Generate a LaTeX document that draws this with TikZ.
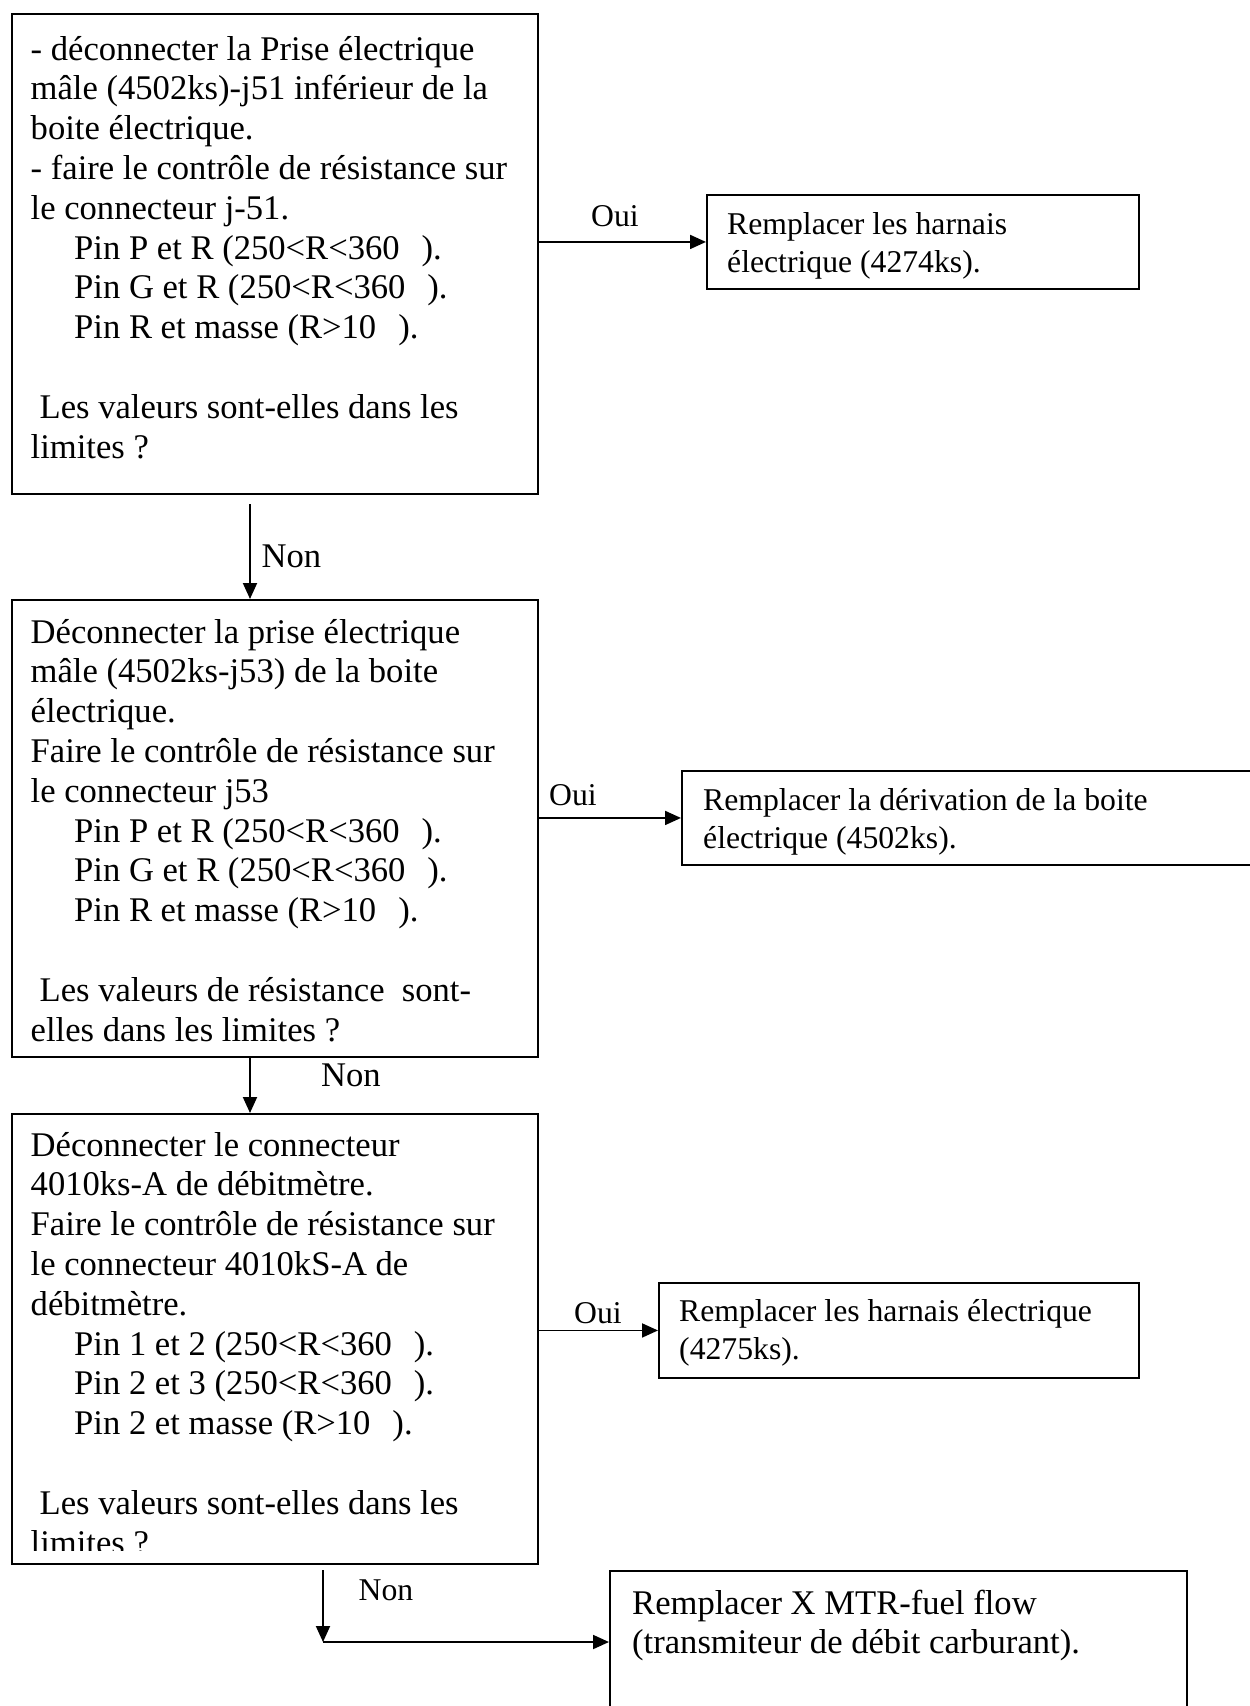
\documentclass[tikz,border=0pt]{standalone}
\usepackage{fontspec}
\setmainfont{Liberation Serif}
\usetikzlibrary{arrows.meta}

% Two type sizes: 12pt-like body and 11pt-like captions (1pt = 1px of the sheet)
\newcommand{\bodyfont}{\fontsize{34.6}{39.8}\selectfont}
\newcommand{\smallfont}{\fontsize{31.7}{38}\selectfont}
\newcommand{\pinind}{\hspace*{43.5pt}}
\newcommand{\ohm}{\hspace{22pt}}

\begin{document}
\begin{tikzpicture}[x=1pt,y=-1pt,
  box/.style={draw=black, line width=1.9pt, inner sep=0pt, anchor=north west, fill=white},
  txt/.style={anchor=base west, inner sep=0pt},
  lbl/.style={inner sep=0pt, anchor=center},
  flow/.style={line width=1.9pt, -{Triangle[length=16pt,width=14pt]}}]

\useasboundingbox[fill=white] (0,0) rectangle (1250,1706);

% ---- boxes ----
\node[box, minimum width=526pt, minimum height=480pt] (b1) at (11,13) {};
\node[box, minimum width=432pt, minimum height=94pt]  (b2) at (706,194) {};
\node[box, minimum width=526pt, minimum height=457pt] (b3) at (11,599) {};
\node[box, minimum width=619pt, minimum height=94pt]  (b4) at (681,770) {};
\node[box, minimum width=526pt, minimum height=450pt] (b5) at (11,1113) {};
\node[box, minimum width=480pt, minimum height=95pt]  (b6) at (658,1282) {};
\node[box, minimum width=577pt, minimum height=190pt] (b7) at (609,1570) {};

% ---- box texts ----
\node[txt] (t1) at (30.5,60) {\parbox[t]{700pt}{\bodyfont
- déconnecter la Prise électrique\\
mâle (4502ks)-j51 inférieur de la\\
boite électrique.\\
- faire le contrôle de résistance sur\\
le connecteur j-51.\\
\pinind Pin P et R (250<R<360\ohm).\\
\pinind Pin G et R (250<R<360\ohm).\\
\pinind Pin R et masse (R>10\ohm).\\
\mbox{}\\
\hspace*{9pt}Les valeurs sont-elles dans les\\
limites ?}};

\node[txt] (t2) at (727,234) {\parbox[t]{600pt}{\smallfont
Remplacer les harnais\\
électrique (4274ks).}};

\node[txt] (t3) at (30.5,643) {\parbox[t]{700pt}{\bodyfont
Déconnecter la prise électrique\\
mâle (4502ks-j53) de la boite\\
électrique.\\
Faire le contrôle de résistance sur\\
le connecteur j53\\
\pinind Pin P et R (250<R<360\ohm).\\
\pinind Pin G et R (250<R<360\ohm).\\
\pinind Pin R et masse (R>10\ohm).\\
\mbox{}\\
\hspace*{9pt}Les valeurs de résistance\ \ sont-\\
elles dans les limites ?}};

\node[txt] (t4) at (703,810) {\parbox[t]{700pt}{\smallfont
Remplacer la dérivation de la boite\\
électrique (4502ks).}};

% the last line of this box is cut off by the frame
\begin{scope}
  \clip (0,1100) rectangle (600,1550);
  \node[txt] (t5) at (30.5,1156) {\parbox[t]{700pt}{\bodyfont
  Déconnecter le connecteur\\
  4010ks-A de débitmètre.\\
  Faire le contrôle de résistance sur\\
  le connecteur 4010kS-A de\\
  débitmètre.\\
  \pinind Pin 1 et 2 (250<R<360\ohm).\\
  \pinind Pin 2 et 3 (250<R<360\ohm).\\
  \pinind Pin 2 et masse (R>10\ohm).\\
  \mbox{}\\
  \hspace*{9pt}Les valeurs sont-elles dans les\\
  limites ?}};
\end{scope}

\node[txt] (t6) at (679,1321) {\parbox[t]{700pt}{\smallfont
Remplacer les harnais électrique\\
(4275ks).}};

\node[txt] (t7) at (632,1614) {\parbox[t]{700pt}{\bodyfont
Remplacer X MTR-fuel flow\\
(transmiteur de débit carburant).}};

% ---- connectors ----
\draw[flow] (b1.east |- b2.west) -- (b2.west);
\draw[flow] (b3.east |- b4.west) -- (b4.west);
\draw[flow] (b5.east |- b6.west) -- (b6.west);

\coordinate (n1) at (250,504);
\draw[flow] (n1) -- (n1 |- b3.north);
\coordinate (n2) at (250,1056);
\draw[flow] (n2 |- b3.south) -- (n2 |- b5.north);
\coordinate (n3) at (323,1570);
\coordinate (n3c) at (323,1642);
\draw[flow] (n3) -- (n3c);
\draw[flow] (n3c) -- (n3c -| b7.west);

% ---- branch labels ----
\node[lbl] (o1) at (615,216.5) {\smallfont Oui};
\node[lbl] (o2) at (573,795)   {\smallfont Oui};
\node[lbl] (o3) at (598,1313)  {\smallfont Oui};
\node[lbl] (m1) at (291.5,556) {\bodyfont Non};
\node[lbl] (m2) at (351,1075)  {\bodyfont Non};
\node[lbl] (m3) at (386,1590)  {\smallfont Non};

\end{tikzpicture}
\end{document}
